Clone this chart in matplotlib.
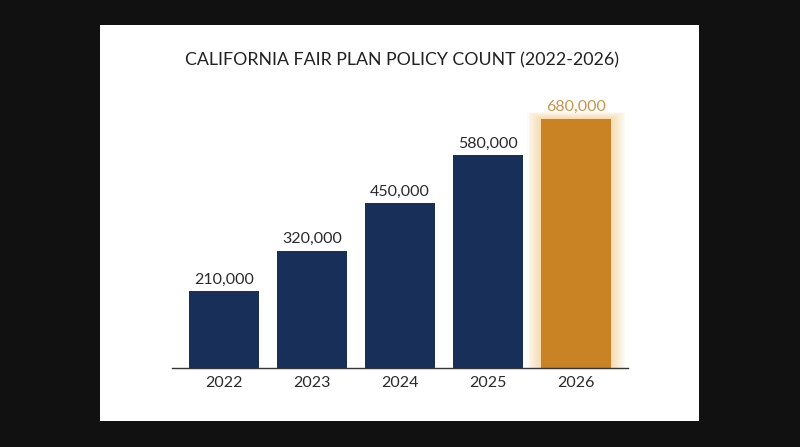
import matplotlib.pyplot as plt
from matplotlib.patches import Rectangle

years = ["2022", "2023", "2024", "2025", "2026"]
policies = [210000, 320000, 450000, 580000, 680000]
labels = ["210,000", "320,000", "450,000", "580,000", "680,000"]

NAVY = "#182f5a"
ORANGE = "#c98224"
FONT = "Lato"

fig = plt.figure(figsize=(8, 4.47), dpi=100)
fig.patch.set_facecolor("#111111")
fig.patches.append(Rectangle((100 / 800, 26 / 447), 599 / 800, 396 / 447,
                             transform=fig.transFigure, facecolor="white",
                             edgecolor="none", zorder=-5))

ax = fig.add_axes([172 / 800, 79 / 447, 456 / 800, 268 / 447])
ax.set_facecolor("none")
x = list(range(len(years)))
colors = [NAVY] * 4 + [ORANGE]

# soft glow behind the last bar
for i in range(16, 0, -1):
    ax.bar(x[-1], policies[-1] + i * 2400, width=0.8 + i * 0.02,
           bottom=-i * 1200, color="#f7c060", alpha=0.035, linewidth=0, zorder=1)

ax.bar(x, policies, width=0.8, color=colors, linewidth=0, zorder=2)

for xi, v, lab in zip(x, policies, labels):
    ax.text(xi, v + 12000, lab, ha="center", va="bottom", fontsize=11.5,
            family=FONT, color="#c8944a" if xi == x[-1] else "#2a2a2a")

ax.set_xlim(-0.59, 4.59)
ax.set_ylim(0, 731000)
ax.set_xticks(x)
ax.set_xticklabels(years, family=FONT, fontsize=11.5, color="#2a2a2a")
ax.tick_params(axis="x", length=0, pad=6)
ax.set_yticks([])
for s in ["top", "right", "left"]:
    ax.spines[s].set_visible(False)
ax.spines["bottom"].set_color("#333333")
ax.spines["bottom"].set_linewidth(1)
ax.spines["bottom"].set_zorder(3)

fig.text(402 / 800, 387 / 447, "CALIFORNIA FAIR PLAN POLICY COUNT (2022-2026)",
         ha="center", va="center", fontsize=12.8, family=FONT, color="#222222")

fig.savefig("out.png", dpi=100, facecolor=fig.get_facecolor())
